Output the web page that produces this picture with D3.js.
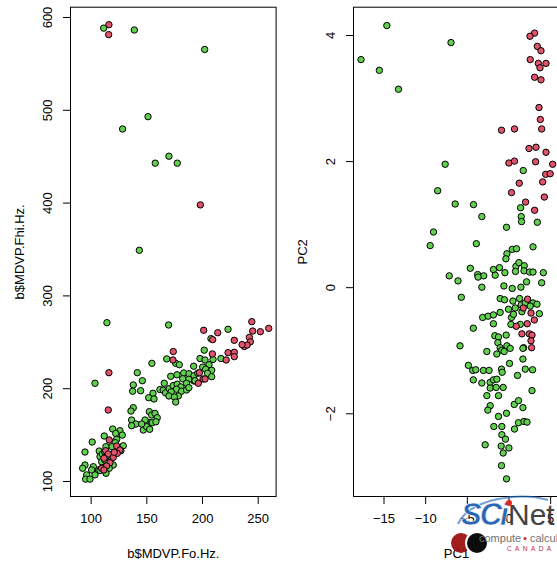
<!DOCTYPE html>
<html>
<head>
<meta charset="utf-8">
<script src="https://cdn.jsdelivr.net/npm/d3@7"></script>
<style>
  html, body { margin: 0; padding: 0; background: #fff; }
  svg { display: block; font-family: "Liberation Sans", Arial, Helvetica, sans-serif; }
</style>
</head>
<body>
<svg id="chart" width="557" height="561"></svg>
<script>
// ---- Panel 1: MDVP.Fo.Hz vs MDVP.Fhi.Hz ----
// status 1 (Parkinson's) — drawn green
const pdFo = [111.7,139.2,202.4,151.5,128.7,170.3,158,177.8,143.7,114.6,170,223.4,208,202,217,168.3,155,176.4,179.6,198.2,202.7,209.9,192.5,200.6,206.3,
  183.6,188.3,177.5,171.9,192.8,192.8,182.7,188.1,
  166.1,162.2,165.2,167.3,170.5,174.1,177.7,186.1,181,177.1,181.6,186.1,188.2,172.3,170.3,178.7,175.2,176.4,
  203.3,208.7,196.1,205,208.7,193.7,
  141.9,146.4,138.3,137.7,144.9,
  103.9,156,152.1,156.9,138.3,136.2,
  152.7,154.8,157.8,159.8,152.4,155.3,158.6,149.4,147.3,150.3,153,148.8,136.8,140.6,145.8,136.8,
  119.8,126.3,122.5,112.2,128.4,123.4,101.4,122.1,94.9,129.3,127.2,119.1,107.7,113.7,
  108.4,109.9,112.8,118.8,120.3,116.7,113.8,106.9,102.4,100.9,94.9,92.8,96.4,95.5,99.4,103.9,108.4,
  110.5,112.5,115];
const pdFhi = [588,586,565,492.6,479.3,450,442.5,442.5,348.6,270.6,268.1,263.5,253.4,241,232,231.6,226.8,226.8,225.3,232,230.4,231,223.7,222.7,225.3,
  216.4,215.6,214.5,212.8,213.5,207.8,210.2,209.6,
  205.3,198.5,197.8,195,199.5,202.8,204.3,205.3,201.4,198.9,196.7,198.1,200.6,196,191.6,191.6,190.5,185.1,
  220.4,219.3,216.1,216.1,212.4,208.1,
  216.7,208.1,203.5,196.7,197.3,
  205.3,194.5,189.8,188.4,179,175.4,
  174.7,171.1,172.9,168.2,163.2,162.8,163.8,162.1,154.9,158.5,155.7,165.7,165.7,161.4,161.4,159.6,
  156,154.2,151.3,148.5,149.5,144.9,142,141.3,131.2,138,132.6,137,132.3,137,
  126.2,120.8,122.6,124.4,117.2,113.7,108.3,111.9,115.4,111.9,117.2,113.7,106.6,102,102,106.6,111.3,
  129,131.5,127.5];
// status 0 (healthy) — drawn red
const hcFo = [116.4,116.2,198.5,244.7,201.5,214.1,245.5,252.4,259.9,242.5,243.4,209.6,229,238,240.5,236,174.2,209.3,223.4,229,229,221.7,173.9,
  197.6,200.9,202.7,196.7,116.4,115.8,
  116.7,123.4,113.5,126.3,115.8,120.3,112,117.3,114.3,109.8,111.9,123.9,121.2];
const hcFhi = [591.7,581,397.5,271.7,262.4,259.8,261.6,260.9,264.5,254.8,250,252.3,251.6,245,246.5,247,239.5,236.9,238.3,238.7,234,230.4,230.4,
  216.7,209.9,209.9,205.3,216.7,176.5,
  144.2,137.7,132.6,133.4,129.1,125.5,124.5,119.7,116.2,113.7,111.9,129.8,130.9];

// ---- Panel 2: principal components ----
const pdPC1 = [-14.6,-17.7,-15.5,-13.2,-6.9,1.77,-7.6,-8.5,
  -6.4,-4.2,-3.2,1.45,1.53,1.57,3.46,-0.24,
  -3.86,2.94,0.45,0.96,-0.19,-0.31,
  -4.58,-1.81,-1.08,-0.43,0.89,1.25,1.89,1.86,2.53,2.94,4.18,-7.11,-3.7,-2.98,-1.6,0.84,
  -9.0,-9.4,-6.06,-3.65,-3.2,-5.66,
  -0.55,0.45,1.49,2.17,3.98,
  -1.0,-0.48,0.53,1.33,0,0.81,1.53,2.01,2.94,3.42,3.7,2.61,1.61,
  -3.1,-2.44,-1.81,-1.0,0.36,0.60,1.41,0.29,-1.81,-4.22,-1.64,-1.2,-0.28,-1.28,-0.19,1.81,-5.82,
  -1.0,-0.8,0.2,-0.52,-1.4,-2.6,
  1.73,1.73,0.12,1.08,2.01,2.89,
  -4.82,-4.29,-3.93,-3.01,-2.33,-0.84,-0.76,-4.22,-3.2,-2.2,-1.81,-1.4,-2.2,-1.48,-0.64,-2.6,-1.2,-2.2,-2.48,0.69,1.2,1.73,-1.2,-0.24,-1.76,-0.8,0.72,1.2,1.86,2.22,-0.8,-0.36,-2.8,-0.88,0.05,-0.64,-0.84,-0.24,
  2.82];
const pdPC2 = [4.15,3.61,3.44,3.14,3.88,1.85,1.95,1.53,
  1.32,1.31,1.12,1.26,1.12,1.04,1.03,0.95,
  0.69,0.64,0.60,0.61,0.53,0.45,
  0.30,0.28,0.31,0.23,0.33,0.39,0.34,0.26,0.24,0.24,0.23,0.18,0.20,0.18,0.19,0.25,
  0.875,0.66,0.10,0.16,0.0,-0.16,
  0.02,-0.02,0,0.085,0.07,
  -0.18,-0.2,-0.22,-0.18,-0.35,-0.33,-0.28,-0.25,-0.25,-0.27,-0.42,-0.30,-0.39,
  -0.48,-0.46,-0.44,-0.40,-0.48,-0.43,-0.59,-0.59,-0.58,-0.65,-0.77,-0.79,-0.76,-0.88,-0.93,-0.96,-0.93,
  -0.96,-1.0,-0.97,-1.02,-1.06,-1.02,
  -0.97,-1.14,-1.21,-1.40,-1.30,-1.31,
  -1.24,-1.32,-1.31,-1.32,-1.32,-1.30,-1.35,-1.47,-1.52,-1.51,-1.47,-1.46,-1.60,-1.59,-1.59,-1.72,-1.72,-1.88,-1.95,-1.86,-1.80,-1.91,-2.05,-2.0,-2.21,-2.21,-2.25,-2.15,-2.13,-2.14,-2.34,-2.41,-2.50,-2.52,-2.55,-2.63,-2.83,-3.04,
  -1.64];
const hcPC1 = [3.13,2.58,3.46,3.9,2.61,3.58,4.5,3.78,3.13,3.9,
  3.66,3.82,3.98,-0.84,0.72,
  2.46,3.3,4.5,0.05,0.72,3.25,5.3,
  4.46,5.0,4.1,1.29,0.36,4.3,
  2.05,3.13,
  2.29,1.77,2.7,3.1,2.25,0.93,1.61,2.49,2.82,2.7,2.77];
const hcPC2 = [4.03,3.98,3.82,3.75,3.61,3.55,3.55,3.48,3.33,3.29,
  2.85,2.66,2.51,2.49,2.51,
  2.2,2.22,2.14,1.97,2.0,1.99,1.95,
  1.79,1.80,1.67,1.65,1.50,1.43,
  1.35,1.22,
  -0.19,-0.33,-0.41,-0.52,-0.58,-0.62,-0.74,-0.74,-0.76,-0.85,-0.96];

// axis ticks and titles
const foTicks = [100, 150, 200, 250];
const fhiTicks = [100, 200, 300, 400, 500, 600];
const pc1Ticks = [-15, -10, -5, 0, 5];
const pc2Ticks = [-2, 0, 2, 4];
const titles = { x1: "b$MDVP.Fo.Hz.", y1: "b$MDVP.Fhi.Hz.", x2: "PC1", y2: "PC2" };

const GREEN = "#61D04F", RED = "#DF536B";
const svg = d3.select("#chart");
const fmt = v => (v < 0 ? "\u2212" + Math.abs(v) : String(v));

function panel(opts) {
  const { left, right, top, bottom, xDom, yDom, xTicks, yTicks, xTitle, yTitle, groups } = opts;
  const x = d3.scaleLinear().domain(xDom).range([left, right]);
  const y = d3.scaleLinear().domain(yDom).range([bottom, top]);
  const g = svg.append("g");

  // points (pch 21: filled circle with black outline)
  const clipId = "clip" + Math.round(left);
  svg.append("defs").append("clipPath").attr("id", clipId)
    .append("rect").attr("x", left).attr("y", top).attr("width", right - left).attr("height", bottom - top);
  const pg = g.append("g").attr("clip-path", `url(#${clipId})`);
  groups.forEach(grp => {
    const pts = d3.range(grp.xs.length).map(i => [grp.xs[i], grp.ys[i]]);
    pg.selectAll(null).data(pts).enter().append("circle")
      .attr("cx", d => x(d[0])).attr("cy", d => y(d[1])).attr("r", 3.2)
      .attr("fill", grp.color).attr("stroke", "#000").attr("stroke-width", 1);
  });

  // box
  g.append("rect").attr("x", left + 0.5).attr("y", top + 0.5)
    .attr("width", right - left - 1).attr("height", bottom - top - 1)
    .attr("fill", "none").attr("stroke", "#000").attr("stroke-width", 1);

  // bottom axis
  const xa = g.append("g").attr("transform", `translate(0,${bottom})`)
    .call(d3.axisBottom(x).tickValues(xTicks).tickFormat(fmt).tickSizeInner(7).tickSizeOuter(0).tickPadding(10));
  xa.select(".domain").remove();
  xa.selectAll("text").attr("font-size", 13).attr("fill", "#000").attr("font-family", "Liberation Sans, Arial, sans-serif");
  xa.selectAll("line").attr("stroke", "#000");

  // left axis, labels rotated as in base graphics
  const ya = g.append("g").attr("transform", `translate(${left},0)`)
    .call(d3.axisLeft(y).tickValues(yTicks).tickFormat(fmt).tickSizeInner(7).tickSizeOuter(0));
  ya.select(".domain").remove();
  ya.selectAll("line").attr("stroke", "#000");
  ya.selectAll("text")
    .attr("x", null).attr("dy", null)
    .attr("text-anchor", "middle")
    .attr("dominant-baseline", "central")
    .attr("transform", "translate(-23,0) rotate(-90)")
    .attr("font-size", 13).attr("fill", "#000").attr("font-family", "Liberation Sans, Arial, sans-serif");

  // titles
  g.append("text").attr("x", (left + right) / 2).attr("y", 553)
    .attr("text-anchor", "middle").attr("dominant-baseline", "central")
    .attr("font-size", 13).text(xTitle);
  g.append("text").attr("transform", `translate(${left - 51},${(top + bottom) / 2}) rotate(-90)`)
    .attr("text-anchor", "middle").attr("dominant-baseline", "central")
    .attr("font-size", 13).text(yTitle);
}

panel({
  left: 70, right: 276.6, top: 6.7, bottom: 497,
  xDom: [81.46, 266.98], yDom: [82.76, 611.1],
  xTicks: foTicks, yTicks: fhiTicks, xTitle: titles.x1, yTitle: titles.y1,
  groups: [{ xs: pdFo, ys: pdFhi, color: GREEN }, { xs: hcFo, ys: hcFhi, color: RED }]
});
panel({
  left: 353, right: 560, top: 6.7, bottom: 497,
  xDom: [-18.66, 6.18], yDom: [-3.328, 4.449],
  xTicks: pc1Ticks, yTicks: pc2Ticks, xTitle: titles.x2, yTitle: titles.y2,
  groups: [{ xs: pdPC1, ys: pdPC2, color: GREEN }, { xs: hcPC1, ys: hcPC2, color: RED }]
});

// SciNet / Compute Canada watermark in the lower right corner
const logo = svg.append("g").attr("opacity", 0.95);
logo.append("path")
  .attr("d", "M458,524 C470,498 520,492 548,500")
  .attr("fill", "none").attr("stroke", "#2a6fc0").attr("stroke-width", 2).attr("opacity", 0.7);
logo.append("text").attr("x", 461).attr("y", 525)
  .attr("font-size", 31).attr("font-weight", "bold").attr("font-style", "italic")
  .attr("fill", "#1f5fb0").attr("stroke", "#fff").attr("stroke-width", 0.6)
  .attr("letter-spacing", -2).text("SCi");
logo.append("text").attr("x", 508).attr("y", 525)
  .attr("font-size", 30).attr("fill", "#3a3a3a").text("Net");
logo.append("circle").attr("cx", 509).attr("cy", 503).attr("r", 3).attr("fill", "#e0201c");
// Compute Canada mark: red and black discs
logo.append("circle").attr("cx", 461).attr("cy", 543).attr("r", 10).attr("fill", "#9e1212");
logo.append("circle").attr("cx", 477).attr("cy", 543).attr("r", 12).attr("fill", "#fff");
logo.append("circle").attr("cx", 477).attr("cy", 543).attr("r", 10).attr("fill", "#000");
logo.append("text").attr("x", 479).attr("y", 542)
  .attr("font-size", 11).attr("fill", "#6b6b6b").text("compute");
logo.append("circle").attr("cx", 525).attr("cy", 538.5).attr("r", 1.5).attr("fill", "#d0202a");
logo.append("text").attr("x", 530).attr("y", 542)
  .attr("font-size", 11).attr("fill", "#6b6b6b").text("calcul");
logo.append("text").attr("x", 507).attr("y", 551)
  .attr("font-size", 6.5).attr("fill", "#c8202a").attr("letter-spacing", 3.4).text("CANADA");
</script>
</body>
</html>
